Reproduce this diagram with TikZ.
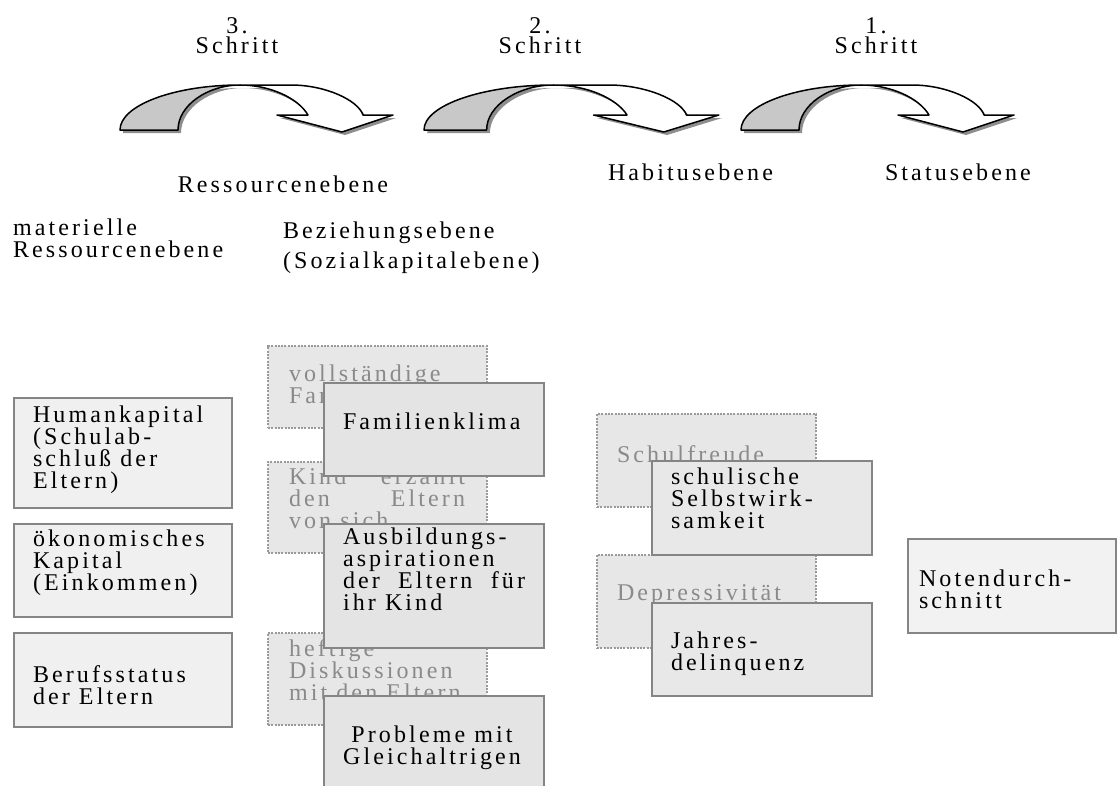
\documentclass[tikz,border=0pt]{standalone}
\usepackage{fontspec}
\setmainfont{Liberation Serif}[LetterSpace=13]
\lineskiplimit=-100pt
\newcommand\lbfont{\fontsize{24}{21.7}\selectfont}
\definecolor{boxline}{HTML}{858585}
\definecolor{leftfill}{HTML}{F0F0F0}
\definecolor{midfill}{HTML}{E4E4E4}
\definecolor{rightfill}{HTML}{E8E8E8}
\definecolor{notefill}{HTML}{F2F2F2}
\definecolor{dotfill}{HTML}{E7E7E7}
\definecolor{dotline}{HTML}{9A9A9A}
\definecolor{fadetext}{HTML}{8A8A8A}
\definecolor{arrowgrey}{HTML}{C8C8C8}
\definecolor{arrowshadow}{HTML}{8E8E8E}
% a rectangle given by the corners of its border path
\newcommand\panel[6]{\node[#6, minimum width=#4-#2, minimum height=#5-#3] (#1) at (#2,#3) {};}
% curved step arrow: origin at the outer foot, shift and horizontal scale as arguments
\newcommand\steparrow[3]{%
  \begin{scope}[shift={(#1,#2)}, xscale=#3]
    \begin{scope}[shift={(3,3)}]
      \fill[arrowshadow] (0,0) .. controls (0,-25) and (55,-45) .. (120,-45)
        .. controls (88,-45) and (58,-25) .. (58,0) -- cycle;
      \fill[arrowshadow] (120,-45) -- (171,-45) .. controls (205,-45) and (238,-30) .. (243,-15)
        -- (273,-15) -- (222,2) -- (157,-15) -- (188,-15)
        .. controls (178,-32) and (150,-45) .. (120,-45) -- cycle;
    \end{scope}
    \filldraw[arrowedge, fill=arrowgrey] (0,0) .. controls (0,-25) and (55,-45) .. (120,-45)
      .. controls (88,-45) and (58,-25) .. (58,0) -- cycle;
    \filldraw[arrowedge, fill=white] (120,-45) -- (171,-45) .. controls (205,-45) and (238,-30) .. (243,-15)
      -- (273,-15) -- (222,2) -- (157,-15) -- (188,-15)
      .. controls (178,-32) and (150,-45) .. (120,-45) -- cycle;
  \end{scope}}
\begin{document}
\begin{tikzpicture}[x=1pt, y=-1pt,
  arrowedge/.style={draw=black, line width=1.5pt, line join=round},
  solidbox/.style={rectangle, draw=boxline, line width=2pt, fill=#1,
    anchor=north west, inner sep=0pt, outer sep=0pt},
  dotbox/.style={rectangle, draw=dotline, line width=2pt, dash pattern=on 2pt off 1.3pt,
    fill=dotfill, anchor=north west, inner sep=0pt, outer sep=0pt},
  lbl/.style={inner sep=0pt, outer sep=0pt, font=\lbfont, align=left, anchor=base west},
  fadelbl/.style={lbl, text=fadetext},
  steplbl/.style={inner sep=0pt, font=\fontsize{24}{20}\selectfont, align=center, anchor=base}]
\useasboundingbox (0,0) rectangle (1118,785);
\clip (0,0) rectangle (1118,785);

% steps and their arrows (multi-line labels are placed by their last baseline)
\node[steplbl] (s3) at (237,53) {3.\\Schritt};
\node[steplbl] (s2) at (540,53) {2.\\Schritt};
\node[steplbl] (s1) at (876,53) {1.\\Schritt};
\steparrow{120}{130}{1}
\steparrow{424}{130}{1.08}
\steparrow{741}{130}{1}

% level headings
\node[lbl, anchor=base] (hres) at (283,192) {Ressourcenebene};
\node[lbl] (hhab) at (608,180) {Habitusebene};
\node[lbl] (hsta) at (885,180) {Statusebene};
\node[lbl] (hmat) at (13,257) {materielle\\Ressourcenebene};
\node[lbl] (hbez) at (283,268) {Beziehungsebene\\[8pt](Sozialkapitalebene)};

% material resources
\panel{hk}{14}{398}{232}{508}{solidbox=leftfill}
\panel{ok}{14}{524}{232}{617}{solidbox=leftfill}
\panel{bs}{14}{633}{232}{727}{solidbox=leftfill}
\node[lbl] (thk) at (33,488) {Humankapital\\(Schulab-\\schluß der\\Eltern)};
\node[lbl] (tok) at (33,590) {ökonomisches\\Kapital\\(Einkommen)};
\node[lbl] (tbs) at (33,704) {Berufsstatus\\der Eltern};

% relations: background variables
\panel{vf}{268}{346}{487}{428}{dotbox}
\panel{ke}{268}{462}{487}{553}{dotbox}
\panel{hd}{268}{633}{487}{725}{dotbox}
\node[fadelbl] (tvf) at (289,403) {vollständige\\Familie};
\node[fadelbl] (tke) at (289,528) {\makebox[176pt][l]{Kind\hfill erzählt}\\\makebox[176pt][l]{den\hfill Eltern}\\von sich};
\node[fadelbl] (thd) at (289,700) {heftige\\Diskussionen\\mit den Eltern};

% relations: model variables
\panel{fk}{324}{383}{544}{476}{solidbox=midfill}
\panel{ab}{324}{524}{544}{648}{solidbox=midfill}
\panel{pg}{324}{696}{544}{800}{solidbox=midfill}
\node[lbl] (tfk) at (343,429) {Familienklima};
\node[lbl] (tab) at (343,610) {Ausbildungs-\\aspirationen\\\makebox[182pt][l]{der\hfill Eltern\hfill für}\\ihr Kind};
\node[lbl, align=center, anchor=base] (tpg) at (432,764) {Probleme mit\\Gleichaltrigen};

% habitus level
\panel{sf}{597}{414}{816}{507}{dotbox}
\panel{dp}{597}{555}{816}{648}{dotbox}
\node[fadelbl] (tsf) at (617,462) {Schulfreude};
\node[fadelbl] (tdp) at (617,600) {Depressivität};
\panel{sw}{652}{461}{872}{555}{solidbox=rightfill}
\panel{jd}{652}{603}{872}{696}{solidbox=rightfill}
\node[lbl] (tsw) at (671,528) {schulische\\Selbstwirk-\\samkeit};
\node[lbl] (tjd) at (671,670) {Jahres-\\delinquenz};

% status level
\panel{nd}{908}{539}{1116}{633}{solidbox=notefill}
\node[lbl] (tnd) at (919,608) {Notendurch-\\schnitt};
\end{tikzpicture}
\end{document}
